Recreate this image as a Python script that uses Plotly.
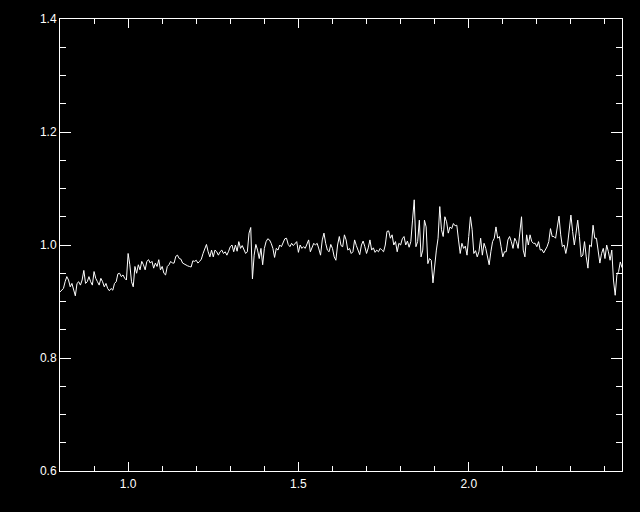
import plotly.graph_objects as go

# Wavelength grid (microns) and relative flux
wave_a = [0.800, 0.805, 0.810, 0.815, 0.820, 0.825, 0.830, 0.835, 0.840, 0.845,
          0.850, 0.855, 0.860, 0.865, 0.870, 0.875, 0.880, 0.885, 0.890, 0.895,
          0.900, 0.905, 0.910, 0.915, 0.920, 0.925, 0.930, 0.935, 0.940, 0.945,
          0.950, 0.955, 0.960, 0.965, 0.970, 0.975, 0.980, 0.985, 0.990, 0.995,
          1.000, 1.005, 1.010, 1.015, 1.020, 1.025, 1.030, 1.035, 1.040, 1.045,
          1.050, 1.055, 1.060, 1.065, 1.070, 1.075, 1.080, 1.085, 1.090, 1.095,
          1.100, 1.105, 1.110, 1.115, 1.120, 1.125, 1.130, 1.135, 1.140, 1.145]
flux_a = [0.917, 0.920, 0.923, 0.935, 0.944, 0.938, 0.926, 0.932, 0.923, 0.910,
          0.932, 0.935, 0.929, 0.938, 0.955, 0.932, 0.935, 0.944, 0.935, 0.929,
          0.953, 0.941, 0.935, 0.929, 0.941, 0.935, 0.926, 0.932, 0.923, 0.919,
          0.923, 0.920, 0.932, 0.935, 0.949, 0.950, 0.944, 0.947, 0.941, 0.938,
          0.985, 0.965, 0.935, 0.926, 0.962, 0.950, 0.965, 0.956, 0.971, 0.965,
          0.956, 0.971, 0.974, 0.968, 0.971, 0.959, 0.968, 0.962, 0.974, 0.956,
          0.962, 0.950, 0.947, 0.962, 0.965, 0.971, 0.968, 0.968, 0.980, 0.982]

wave_b = [1.150, 1.155, 1.160, 1.165, 1.170, 1.175, 1.180, 1.185, 1.190, 1.195,
          1.200, 1.205, 1.210, 1.215, 1.220, 1.225, 1.230, 1.235, 1.240, 1.245,
          1.250, 1.255, 1.260, 1.265, 1.270, 1.275, 1.280, 1.285, 1.290, 1.295,
          1.300, 1.305, 1.310, 1.315, 1.320, 1.325, 1.330, 1.335, 1.340, 1.345,
          1.350, 1.355, 1.360, 1.365, 1.370, 1.375, 1.380, 1.385, 1.390, 1.395,
          1.400, 1.405, 1.410, 1.415, 1.420, 1.425, 1.430, 1.435, 1.440, 1.445,
          1.450, 1.455, 1.460, 1.465, 1.470, 1.475, 1.480, 1.485, 1.490]
flux_b = [0.976, 0.975, 0.968, 0.966, 0.965, 0.963, 0.962, 0.961, 0.972, 0.971,
          0.973, 0.968, 0.971, 0.975, 0.985, 0.994, 1.001, 0.988, 0.979, 0.991,
          0.979, 0.991, 0.988, 0.982, 0.988, 0.991, 0.985, 0.988, 0.982, 0.989,
          0.997, 1.000, 0.988, 1.000, 0.989, 1.006, 0.994, 0.999, 0.993, 0.985,
          0.988, 1.021, 1.031, 0.940, 0.982, 1.001, 0.991, 0.976, 0.994, 0.965,
          0.994, 1.006, 1.011, 1.009, 1.003, 0.994, 0.978, 0.994, 0.991, 1.000,
          0.997, 1.006, 1.011, 1.012, 1.001, 0.997, 1.003, 0.999, 1.003]

wave_c = [1.495, 1.500, 1.505, 1.510, 1.515, 1.520, 1.525, 1.530, 1.535, 1.540,
          1.545, 1.550, 1.555, 1.560, 1.565, 1.570, 1.575, 1.580, 1.585, 1.590,
          1.595, 1.600, 1.605, 1.610, 1.615, 1.620, 1.625, 1.630, 1.635, 1.640,
          1.645, 1.650, 1.655, 1.660, 1.665, 1.670, 1.675, 1.680, 1.685, 1.690,
          1.695, 1.700, 1.705, 1.710, 1.715, 1.720, 1.725, 1.730, 1.735, 1.740,
          1.745, 1.750, 1.755, 1.760, 1.765, 1.770, 1.775, 1.780, 1.785, 1.790,
          1.795, 1.800, 1.805, 1.810, 1.815, 1.820]
flux_c = [1.006, 0.987, 1.000, 0.994, 0.997, 0.994, 1.003, 1.009, 0.988, 0.997,
          1.003, 1.000, 1.003, 0.993, 0.982, 1.009, 1.021, 1.003, 0.991, 0.988,
          1.001, 0.994, 0.979, 0.973, 1.000, 1.015, 0.999, 0.997, 1.018, 1.009,
          0.991, 0.994, 0.985, 0.988, 1.009, 0.999, 0.989, 0.983, 1.000, 1.007,
          0.997, 0.985, 0.995, 1.009, 0.991, 0.995, 0.987, 0.991, 0.988, 0.994,
          0.991, 0.988, 1.000, 1.024, 1.025, 1.012, 1.018, 1.000, 1.006, 0.988,
          1.003, 1.000, 1.011, 1.015, 1.000, 1.007]

wave_d = [1.825, 1.830, 1.835, 1.840, 1.845, 1.850, 1.855, 1.860, 1.865, 1.870,
          1.875, 1.880, 1.885, 1.890, 1.895, 1.900, 1.905, 1.910, 1.915, 1.920,
          1.925, 1.930, 1.935, 1.940, 1.945, 1.950, 1.955, 1.960, 1.965, 1.970,
          1.975, 1.980, 1.985, 1.990, 1.995, 2.000, 2.005, 2.010, 2.015, 2.020,
          2.025, 2.030, 2.035, 2.040, 2.045, 2.050, 2.055, 2.060, 2.065, 2.070,
          2.075, 2.080, 2.085, 2.090, 2.095, 2.100, 2.105, 2.110, 2.115, 2.120,
          2.125, 2.130]
flux_d = [0.996, 1.006, 1.044, 1.080, 0.997, 1.006, 1.044, 0.979, 0.991, 1.044,
          1.032, 0.967, 0.976, 0.973, 0.933, 0.970, 0.991, 1.012, 1.068, 1.027,
          1.015, 1.050, 1.041, 1.021, 1.032, 1.029, 1.038, 1.034, 1.035, 1.009,
          0.985, 1.003, 0.994, 0.998, 0.982, 1.015, 1.050, 1.027, 0.985, 0.990,
          0.979, 0.988, 1.012, 0.982, 1.003, 0.994, 0.979, 0.965, 0.988, 1.006,
          1.012, 1.032, 1.012, 1.015, 0.997, 0.979, 0.988, 0.988, 1.009, 1.015,
          1.006, 0.994]

wave_e = [2.135, 2.140, 2.145, 2.150, 2.155, 2.160, 2.165, 2.170, 2.175, 2.180,
          2.185, 2.190, 2.195, 2.200, 2.205, 2.210, 2.215, 2.220, 2.225, 2.230,
          2.235, 2.240, 2.245, 2.250, 2.255, 2.260, 2.265, 2.270, 2.275, 2.280,
          2.285, 2.290, 2.295, 2.300, 2.305, 2.310, 2.315, 2.320, 2.325, 2.330,
          2.335, 2.340, 2.345, 2.350, 2.355, 2.360, 2.365, 2.370, 2.375, 2.380,
          2.385, 2.390, 2.395, 2.400, 2.405, 2.410, 2.415, 2.420, 2.425, 2.430,
          2.435, 2.440, 2.445, 2.450]
flux_e = [1.012, 1.006, 0.994, 1.024, 1.050, 0.991, 0.979, 1.018, 1.000, 1.018,
          1.006, 1.003, 1.003, 0.997, 1.006, 0.991, 0.992, 0.986, 0.991, 0.997,
          1.006, 1.029, 1.015, 1.015, 1.012, 1.032, 1.051, 1.018, 0.997, 1.000,
          0.985, 1.000, 1.032, 1.053, 1.024, 1.000, 1.021, 1.044, 1.015, 0.979,
          0.982, 1.006, 0.979, 0.959, 1.000, 0.997, 1.035, 1.012, 1.012, 0.985,
          0.968, 0.985, 0.994, 0.976, 1.000, 0.988, 0.973, 0.991, 0.938, 0.911,
          0.947, 0.953, 0.970, 0.960]

wave = wave_a + wave_b + wave_c + wave_d + wave_e
flux = flux_a + flux_b + flux_c + flux_d + flux_e

x_range = [0.80, 2.45]
y_range = [0.6, 1.4]

fig = go.Figure()
fig.add_trace(go.Scatter(x=wave, y=flux, mode="lines",
                         line=dict(color="white", width=1, shape="linear"),
                         showlegend=False, hoverinfo="skip"))

axis_font = dict(family="Liberation Sans, Arial, sans-serif", size=12, color="white")

fig.update_layout(
    width=640, height=512,
    paper_bgcolor="black", plot_bgcolor="black",
    margin=dict(l=60, r=18, t=19, b=41),
    showlegend=False,
    hovermode=False,
    xaxis=dict(range=x_range, autorange=False, showgrid=False, zeroline=False,
               showline=True, linecolor="white", linewidth=1, mirror="allticks",
               ticks="inside", ticklen=9, tickwidth=1, tickcolor="white",
               tick0=0, dtick=0.5, tickformat=".1f", tickfont=axis_font,
               ticklabelstandoff=2,
               minor=dict(dtick=0.1, tick0=0, ticks="inside", ticklen=5,
                          tickwidth=1, tickcolor="white", showgrid=False)),
    yaxis=dict(range=y_range, autorange=False, showgrid=False, zeroline=False,
               showline=True, linecolor="white", linewidth=1, mirror="allticks",
               ticks="inside", ticklen=11, tickwidth=1, tickcolor="white",
               tick0=0, dtick=0.2, tickformat=".1f", tickfont=axis_font,
               minor=dict(dtick=0.05, tick0=0, ticks="inside", ticklen=6,
                          tickwidth=1, tickcolor="white", showgrid=False)),
)

fig.write_html(
    "out.html",
    config={"displayModeBar": False, "staticPlot": True},
    post_script="document.body.style.margin='0';"
                "document.body.style.background='black';"
                "document.documentElement.style.background='black';",
)
